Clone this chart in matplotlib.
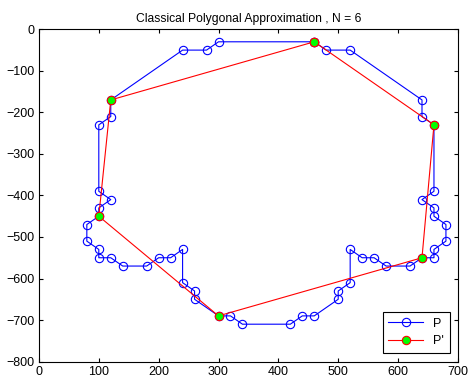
import numpy as np
import matplotlib
matplotlib.use("Agg")
import matplotlib.pyplot as plt

plt.rcParams['font.family'] = ['Liberation Sans', 'DejaVu Sans']

# original contour P (closed)
px = [460, 480, 520, 640, 640, 660, 660, 640, 660, 660, 680, 680, 660, 660,
      640, 620, 580, 560, 540, 520, 520, 500, 500, 460, 440, 420, 340, 320,
      300, 260, 260, 240, 240, 220, 200, 180, 140, 120, 100, 100, 80, 80,
      100, 100, 120, 100, 100, 120, 120, 240, 280, 300, 460]
py = [-30, -50, -50, -170, -210, -230, -390, -410, -430, -450, -470, -510, -530, -550,
      -550, -570, -570, -550, -550, -530, -610, -630, -650, -690, -690, -710, -710, -690,
      -690, -650, -630, -610, -530, -550, -550, -570, -570, -550, -550, -530, -510, -470,
      -450, -430, -410, -390, -230, -210, -170, -50, -50, -30, -30]

# approximation P', N = 6
ax_ = [460, 660, 640, 300, 100, 120, 460]
ay_ = [-30, -230, -550, -690, -450, -170, -30]

fig = plt.figure(figsize=(4.75, 3.81), dpi=100)
ax = fig.add_axes([0.082, 0.051, 0.882, 0.872])

ax.plot(px, py, 'o-', color='blue', lw=0.8, ms=6, mfc='none', mec='blue', mew=0.8, label='P')
ax.plot(ax_, ay_, 'o-', color='red', lw=0.8, ms=6, mfc='#00ff00', mec='red', mew=0.8, label="P'")

ax.set_xlim(0, 700)
ax.set_ylim(-800, 0)
ax.set_xticks(np.arange(0, 701, 100))
ax.set_yticks(np.arange(-800, 1, 100))
ax.tick_params(direction='in', top=True, right=True, labelsize=9, length=3, pad=3)
for s in ax.spines.values():
    s.set_linewidth(0.8)

ax.set_title('Classical Polygonal Approximation , N = 6', fontsize=8.7, pad=5)

leg = ax.legend(loc='lower right', fontsize=9, fancybox=False, framealpha=1,
                edgecolor='black', borderpad=0.45, handlelength=2.8,
                labelspacing=0.45, borderaxespad=0,
                bbox_to_anchor=(0.981, 0.026))
leg.get_frame().set_linewidth(0.8)

fig.savefig('out.png', dpi=100)
